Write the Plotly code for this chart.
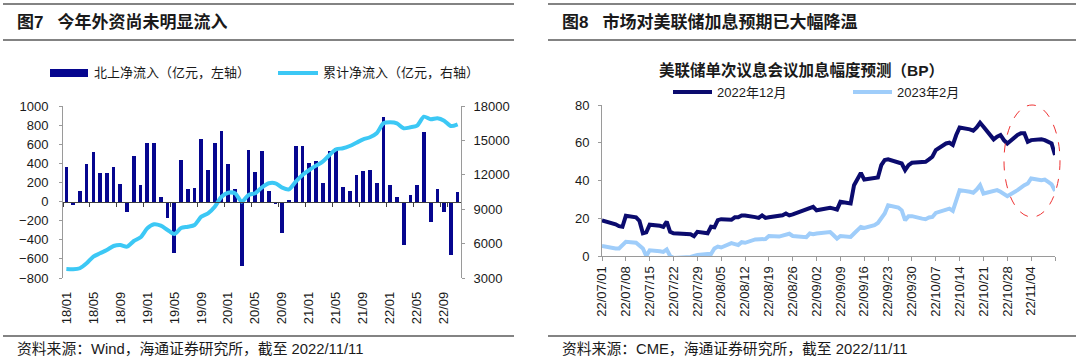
import plotly.graph_objects as go
import pandas as pd

W, H = 1080, 360

# ---------------- Figure 7 data ----------------
months = [f"{y:02d}/{m:02d}" for y in range(18, 23) for m in range(1, 13)][:59]
tick_labels_7 = ["18/01", "18/05", "18/09", "19/01", "19/05", "19/09", "20/01", "20/05",
                 "20/09", "21/01", "21/05", "21/09", "22/01", "22/05", "22/09"]
north_flow = [360, -31, 107, 394, 516, 294, 294, 363, 183, -107,
              474, 170, 612, 612, 52, -176, -536, 433, 131, 142,
              654, 329, 612, 734, 391, 128, -675, 540, 308, 529,
              111, -24, -329, 14, 581, 578, 405, 422, 197, 529,
              560, 156, 114, 273, 315, 332, 190, 889, 173, 48,
              -450, 69, 173, 730, -211, 135, -114, -564, 100]
cum_flow = [3785, 3760, 3850, 4282, 4864, 5154, 5442, 5791, 5878, 5733,
            6227, 6547, 7331, 7680, 7564, 7186, 6838, 7360, 7474, 7622,
            8348, 8640, 9219, 10091, 10440, 10382, 9652, 10238, 10400, 10910,
            11259, 11259, 10876, 10731, 11402, 11983, 12419, 12797, 13148, 13727,
            14224, 14311, 14512, 14800, 15096, 15271, 15619, 16491, 16578, 16491,
            16055, 16142, 16288, 17069, 16840, 16927, 16718, 16256, 16404]

# ---------------- Figure 8 data ----------------
dates_8 = pd.bdate_range("2022-07-01", "2022-11-11")
tick_dates_8 = pd.date_range("2022-07-01", "2022-11-04", freq="7D")
hike_dec22 = [18.9, 17.5, 16.8, 15.8, 15.5, 21.3, 20.5, 18.6, 12.0, 12.5,
              16.6, 16.0, 15.4, 18.2, 12.8, 12.0, 12.0, 12.0, 11.5, 10.5,
              12.8, 12.0, 15.5, 15.2, 19.0, 19.5, 19.2, 20.5, 20.5, 21.5,
              21.5, 20.6, 20.2, 21.5, 20.2, 20.5, 21.3, 21.6, 22.5, 21.5,
              22.0, 24.0, 24.5, 25.7, 26.0, 24.2, 24.8, 25.5, 25.1, 24.6,
              28.7, 27.8, 37.5, 40.5, 44.0, 40.5, 41.4, 41.6, 48.1, 50.8,
              51.2, 49.4, 49.0, 45.5, 48.1, 49.4, 49.4, 49.9, 51.2, 52.6,
              56.1, 59.6, 60.0, 58.8, 64.1, 68.1, 67.1, 66.4, 68.1, 70.6,
              68.5, 61.8, 63.2, 64.1, 61.4, 59.6, 64.1, 65.0, 65.0, 60.5,
              61.4, 61.8, 61.4, 60.5, 59.6, 53.5]
hike_feb23 = [5.3, 4.0, 4.0, 4.0, 5.5, 7.5, 7.0, 5.5, 4.0, 0.0,
              3.0, 2.5, 2.2, 3.5, 0.0, -1.0, -1.0, -1.0, -0.5, 0.0,
              0.5, 1.0, 1.0, 4.0, 5.0, 4.5, 6.8, 6.3, 5.8, 7.3,
              7.0, 8.8, 8.8, 8.5, 9.0, 10.6, 10.3, 10.8, 11.5, 11.8,
              10.6, 10.0, 10.0, 11.9, 11.5, 11.9, 12.2, 12.7, 11.0, 9.2,
              10.6, 10.1, 11.9, 13.6, 15.4, 14.9, 16.3, 17.5, 19.8, 22.5,
              26.9, 25.7, 24.2, 18.9, 21.1, 21.1, 19.8, 19.5, 20.4, 20.7,
              22.8, 24.6, 25.1, 23.9, 29.6, 34.9, 34.0, 33.5, 35.2, 37.5,
              33.1, 34.5, 34.9, 34.0, 32.7, 31.7, 34.9, 36.3, 37.5, 38.4,
              41.1, 40.2, 40.5, 39.3, 38.0, 34.5]

# ---------------- styles ----------------
BAR_BLUE = "#06068f"
CYAN = "#3cc8f5"
NAVY = "#0b0b6e"
LIGHT = "#9fcdfa"
AX_GRAY = "#9a9a9a"
DARK = "#1a1a1a"
RULE = "#5a5a5a"
NUM_FONT = "Arial, 'Liberation Sans', 'Noto Sans CJK SC', sans-serif"
CJK_FONT = "'Liberation Sans', 'Noto Sans CJK SC', sans-serif"


def px(x):
    return x / W


def py(y):
    return 1 - y / H


# plot areas in pixels
L7, R7, T7, B7 = 63, 461, 106, 278
L8, R8, T8, B8 = 602, 1055, 105, 256

y7_range = [-800, 1000]
y7_dom = [py(B7), py(T7)]
zero_pos = y7_dom[0] + (0 - y7_range[0]) / (y7_range[1] - y7_range[0]) * (y7_dom[1] - y7_dom[0])

fig = go.Figure()
fig.add_trace(go.Bar(x=months, y=north_flow, marker=dict(color=BAR_BLUE, line=dict(width=0)),
                     width=0.55, xaxis="x", yaxis="y", showlegend=False))
fig.add_trace(go.Scatter(x=months, y=cum_flow, mode="lines",
                         line=dict(color=CYAN, width=4, shape="spline", smoothing=0.7),
                         xaxis="x", yaxis="y2", showlegend=False))
fig.add_trace(go.Scatter(x=dates_8, y=hike_dec22, mode="lines",
                         line=dict(color=NAVY, width=4), xaxis="x3", yaxis="y3", showlegend=False))
fig.add_trace(go.Scatter(x=dates_8, y=hike_feb23, mode="lines",
                         line=dict(color=LIGHT, width=4), xaxis="x3", yaxis="y3", showlegend=False))

tickfont = dict(family=NUM_FONT, size=13, color=DARK)

fig.update_layout(
    width=W, height=H, margin=dict(l=0, r=0, t=0, b=0, autoexpand=False),
    paper_bgcolor="white", plot_bgcolor="white",
    showlegend=False, bargap=0,
    xaxis=dict(type="category", domain=[px(L7), px(R7)], anchor="free", position=zero_pos,
               range=[-0.5, len(months) - 0.5], tickmode="array", tickvals=tick_labels_7,
               tickson="boundaries", ticks="outside", ticklen=4, tickcolor="#404040",
               showline=True, linecolor="#404040", linewidth=1, showgrid=False,
               tickangle=-90, ticklabelstandoff=84, tickfont=tickfont, fixedrange=True,
               automargin=False),
    yaxis=dict(domain=y7_dom, anchor="x", range=y7_range, dtick=200, tick0=0,
               showline=True, linecolor=AX_GRAY, ticks="outside", ticklen=3, tickcolor=AX_GRAY,
               showgrid=False, zeroline=False, tickfont=tickfont, ticklabelstandoff=8,
               automargin=False),
    yaxis2=dict(overlaying="y", side="right", anchor="x", range=[3000, 18000], dtick=3000,
                tick0=0, tickformat="d", showline=True, linecolor=AX_GRAY, ticks="outside",
                ticklen=3, tickcolor=AX_GRAY, showgrid=False, zeroline=False,
                tickfont=tickfont, ticklabelstandoff=6, automargin=False),
    xaxis3=dict(type="date", domain=[px(L8), px(R8)], anchor="y3",
                range=[dates_8[0], dates_8[-1]], tickmode="array",
                tickvals=list(tick_dates_8) + [dates_8[-1]],
                ticktext=[d.strftime("%y/%m/%d") for d in tick_dates_8] + [""],
                ticks="outside", ticklen=4, tickcolor=AX_GRAY, showline=True,
                linecolor=AX_GRAY, showgrid=False, tickangle=-90, tickfont=tickfont,
                automargin=False),
    yaxis3=dict(domain=[py(B8), py(T8)], anchor="x3", range=[0, 80], dtick=20,
                showline=True, linecolor=AX_GRAY, ticks="outside", ticklen=3,
                tickcolor=AX_GRAY, showgrid=False, zeroline=False, tickfont=tickfont,
                ticklabelstandoff=6, automargin=False),
)

shapes = []
# header / footer rules
for x0, x1 in [(3, 514), (548, 1076)]:
    for yy in (4, 40, 336):
        shapes.append(dict(type="line", xref="paper", yref="paper", x0=px(x0), x1=px(x1),
                           y0=py(yy), y1=py(yy), line=dict(color=RULE, width=1.5)))
# legend symbols (fig 7)
shapes.append(dict(type="rect", xref="paper", yref="paper", x0=px(50), x1=px(88),
                   y0=py(77), y1=py(69), fillcolor=BAR_BLUE, line=dict(width=0)))
shapes.append(dict(type="line", xref="paper", yref="paper", x0=px(278), x1=px(318),
                   y0=py(73), y1=py(73), line=dict(color=CYAN, width=4)))
# legend symbols (fig 8)
shapes.append(dict(type="line", xref="paper", yref="paper", x0=px(673), x1=px(712),
                   y0=py(92), y1=py(92), line=dict(color=NAVY, width=4)))
shapes.append(dict(type="line", xref="paper", yref="paper", x0=px(853), x1=px(892),
                   y0=py(92), y1=py(92), line=dict(color=LIGHT, width=4)))
# highlight ellipse
shapes.append(dict(type="circle", xref="paper", yref="paper", x0=px(1004), x1=px(1060),
                   y0=py(217), y1=py(105), line=dict(color="#ee3333", width=1, dash="dash")))
fig.update_layout(shapes=shapes)


def ann(text, x, y, size, xanchor="left", bold=False, color=DARK, family=CJK_FONT):
    return dict(text=f"<b>{text}</b>" if bold else text, x=px(x), y=py(y), xref="paper",
                yref="paper", xanchor=xanchor, yanchor="middle", showarrow=False,
                font=dict(family=family, size=size, color=color))


annotations = [
    ann("图7&nbsp;&nbsp;&nbsp;今年外资尚未明显流入", 15, 22, 17, bold=True),
    ann("图8&nbsp;&nbsp;&nbsp;市场对美联储加息预期已大幅降温", 560, 22, 17, bold=True),
    ann("北上净流入（亿元，左轴）", 92, 73, 13),
    ann("累计净流入（亿元，右轴）", 321, 73, 13),
    ann("美联储单次议息会议加息幅度预测（BP）", 801, 70, 15.5, xanchor="center", bold=True),
    ann("2022年12月", 715, 92, 13),
    ann("2023年2月", 895, 92, 13),
    ann("资料来源：Wind，海通证券研究所，截至 2022/11/11", 15, 349, 14.8),
    ann("资料来源：CME，海通证券研究所，截至 2022/11/11", 560, 349, 14.8),
]
fig.update_layout(annotations=annotations)

fig.write_html("out.html",
               config={"displayModeBar": False, "staticPlot": True},
               post_script="document.body.style.margin='0';document.body.style.padding='0';")
